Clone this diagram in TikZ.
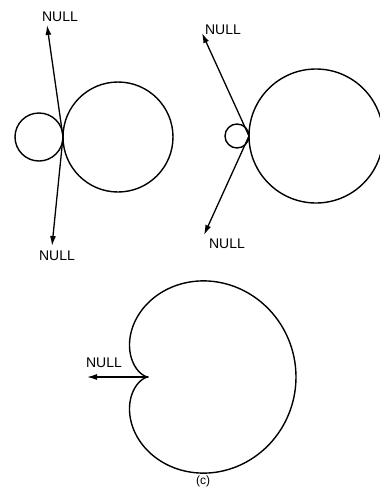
\documentclass[tikz,border=0pt]{standalone}
\usepackage{fontspec}
\setmainfont{Liberation Sans}
\usetikzlibrary{arrows.meta}
\begin{document}
\begin{tikzpicture}[x=1pt,y=-1pt,
  curve/.style={line width=1.4pt},
  nullarrow/.style={line width=1.3pt,-{Latex[length=10pt,width=6pt]}},
  lbl/.style={inner sep=0pt,font=\fontsize{14}{14}\selectfont}]
\useasboundingbox (0,0) rectangle (380,491);
% left pattern
\draw[curve] (39,137) circle[radius=24];
\draw[curve] (118,137) circle[radius=55];
\coordinate (t1) at (63,137);
\coordinate (a1) at (47,25);
\coordinate (b1) at (52,246);
\draw[nullarrow] (t1) -- (a1);
\draw[nullarrow] (t1) -- (b1);
\node[lbl] (n1) at (60,17) {NULL};
\node[lbl] (n2) at (57,256) {NULL};
% middle pattern
\draw[curve] (237,136) circle[radius=12];
\draw[curve] (316,136) circle[radius=67];
\coordinate (t2) at (249,136);
\coordinate (a2) at (202,33);
\coordinate (b2) at (204,235);
\draw[nullarrow] (t2) -- (a2);
\draw[nullarrow] (t2) -- (b2);
\node[lbl] (n3) at (223,30) {NULL};
\node[lbl] (n4) at (227,244) {NULL};
% cardioid
\draw[curve] plot[domain=0:360,samples=240,smooth,variable=\t]
  ({148+74*(1+cos(\t))*cos(\t)},{377-74*(1+cos(\t))*sin(\t)});
\coordinate (cusp) at (148,377);
\coordinate (a3) at (87,377);
\draw[nullarrow] (cusp) -- (a3);
\node[lbl] (n5) at (104,363) {NULL};
\node[lbl,font=\fontsize{12}{12}\selectfont] (cap) at (203,481) {(c)};
\end{tikzpicture}
\end{document}
